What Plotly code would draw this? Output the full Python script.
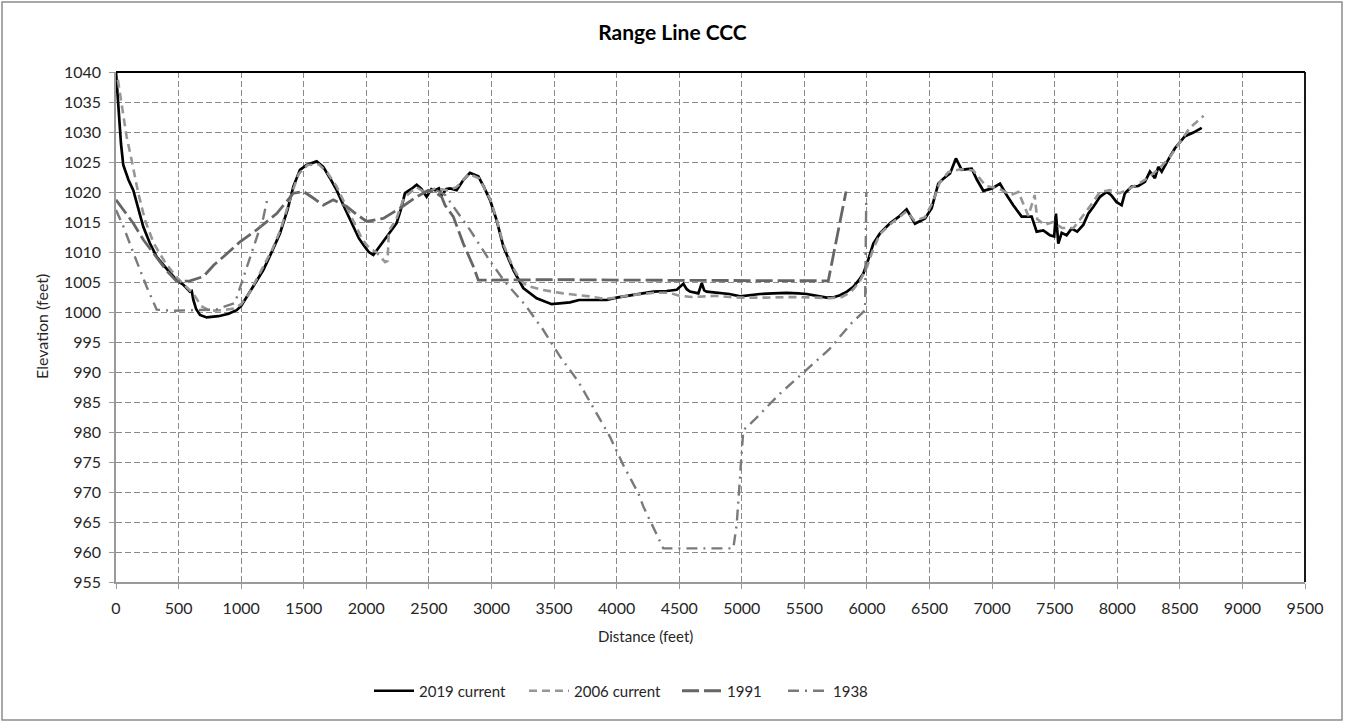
import plotly.graph_objects as go

# ---------------- data ----------------
x_2019 = [0, 20, 40, 58, 100, 138, 180, 218, 270, 325, 400, 485, 540, 591, 605, 618, 640, 671, 724, 818,
          900, 964, 1000, 1044, 1110, 1177, 1240, 1310, 1370, 1417, 1470, 1523, 1603, 1656, 1710, 1763, 1830,
          1896, 1940, 1976, 2020, 2056, 2110, 2163, 2242, 2275, 2309, 2360, 2402, 2440, 2482, 2520, 2549, 2580,
          2602, 2640, 2669, 2722, 2775, 2828, 2895, 2940, 2988, 3041, 3095, 3174, 3254, 3361, 3481, 3627, 3700,
          3760, 3920, 4000, 4107, 4200, 4293, 4400, 4480, 4533, 4560, 4586, 4653, 4680, 4700, 4719, 4826, 4900,
          4986, 5066, 5146, 5250, 5359, 5450, 5519, 5600, 5679, 5740, 5785, 5840, 5891, 5935, 5971, 6010, 6051,
          6104, 6184, 6250, 6317, 6384, 6464, 6517, 6570, 6610, 6664, 6711, 6757, 6800, 6837, 6880, 6930, 7000,
          7063, 7116, 7169, 7236, 7316, 7356, 7409, 7462, 7496, 7510, 7520, 7529, 7556, 7595, 7635, 7680, 7728,
          7768, 7808, 7862, 7915, 7950, 7995, 8035, 8061, 8115, 8168, 8221, 8261, 8301, 8328, 8355, 8421, 8461,
          8541, 8608, 8675]
y_2019 = [1040, 1033, 1028, 1024.5, 1022, 1020.3, 1017, 1014.2, 1011.5, 1009.2, 1007.3, 1005.3, 1004.5, 1003.4,
          1003.5, 1002, 1000.5, 999.5, 999.1, 999.3, 999.7, 1000.3, 1001, 1002.5, 1004.7, 1007, 1009.8, 1013.1,
          1017, 1020.9, 1023.7, 1024.5, 1025.1, 1024.2, 1022.3, 1020.3, 1017.2, 1014.2, 1012.3, 1011.2, 1010,
          1009.5, 1011, 1012.6, 1014.8, 1017, 1019.8, 1020.5, 1021.2, 1020.5, 1019.2, 1020.5, 1020.3, 1020.6,
          1019.5, 1020.5, 1020.6, 1020.3, 1022, 1023.2, 1022.6, 1020.8, 1018.7, 1015.3, 1010.9, 1007, 1004,
          1002.3, 1001.3, 1001.6, 1002, 1002, 1002, 1002.4, 1002.8, 1003.1, 1003.4, 1003.5, 1003.7, 1004.7,
          1003.8, 1003.4, 1003.1, 1004.8, 1003.6, 1003.4, 1003.1, 1003, 1002.6, 1002.8, 1003, 1003.1, 1003.2,
          1003.1, 1003, 1002.7, 1002.4, 1002.5, 1002.8, 1003.4, 1004.2, 1005.3, 1006.4, 1008.7, 1011.4, 1013.1,
          1014.8, 1015.8, 1017.1, 1014.7, 1015.6, 1017.3, 1021.4, 1022.2, 1023.1, 1025.6, 1023.7, 1023.8,
          1023.9, 1022, 1020.2, 1020.6, 1021.4, 1019.5, 1017.8, 1015.9, 1015.9, 1013.4, 1013.6, 1012.8, 1012.6,
          1016.4, 1012.6, 1011.4, 1013.2, 1012.8, 1013.9, 1013.4, 1014.5, 1016.4, 1017.5, 1019.2, 1020, 1019.5,
          1018.3, 1017.8, 1019.8, 1020.9, 1021, 1021.7, 1023.4, 1022.3, 1024.2, 1023.4, 1025.9, 1027.3, 1029.3,
          1029.9, 1030.7]

x_2006 = [15, 45, 85, 125, 178, 232, 300, 400, 485, 560, 620, 680, 750, 850, 950, 1000, 1060, 1120, 1177, 1250,
          1320, 1400, 1460, 1530, 1620, 1690, 1760, 1830, 1900, 1970, 2030, 2080, 2150, 2170, 2180, 2240, 2300,
          2400, 2480, 2550, 2650, 2720, 2820, 2900, 2990, 3040, 3095, 3170, 3230, 3281, 3400, 3574, 3700, 3787,
          3900, 4000, 4107, 4300, 4420, 4500, 4600, 4700, 4800, 4900, 5000, 5200, 5400, 5600, 5700, 5800, 5870,
          5940, 6000, 6050, 6104, 6184, 6317, 6380, 6464, 6530, 6580, 6650, 6750, 6850, 6950, 7050, 7150, 7210,
          7290, 7340, 7360, 7420, 7486, 7560, 7650, 7750, 7862, 7940, 8020, 8120, 8220, 8330, 8420, 8500, 8580,
          8690]
y_2006 = [1038.7, 1034.8, 1029.2, 1025.3, 1019.8, 1015.3, 1011.5, 1008, 1005.8, 1004.2, 1003, 1001, 1000.2,
          1000.3, 1000.6, 1001.3, 1003, 1005.3, 1007.5, 1010.5, 1014, 1019.5, 1023, 1024.5, 1024.6, 1023.2, 1021,
          1018, 1015, 1012, 1010.5, 1010, 1008.3, 1008.5, 1013.5, 1015.5, 1019, 1020.8, 1019.8, 1020.6, 1020.3,
          1020.8, 1023, 1022.3, 1018.8, 1015.5, 1011.3, 1007.5, 1005.3, 1004.4, 1003.7, 1003.1, 1002.8, 1002.6,
          1002.2, 1002.4, 1002.8, 1003.2, 1003.2, 1002.7, 1002.5, 1002.6, 1002.7, 1002.5, 1002.4, 1002.4, 1002.5,
          1002.4, 1002.3, 1002.5, 1003.3, 1005, 1007.5, 1010.5, 1013, 1014.6, 1016.8, 1015.2, 1015.8, 1018.5,
          1021.5, 1023.3, 1023.8, 1023.6, 1021, 1020.6, 1019.5, 1020, 1016, 1019.5, 1015.5, 1014.5, 1015, 1014,
          1014, 1016.7, 1020, 1020.3, 1019.8, 1020.8, 1022, 1023.8, 1025.8, 1028.3, 1030.7, 1032.7]

x_1991 = [0, 60, 138, 220, 298, 400, 485, 591, 698, 780, 858, 991, 1124, 1284, 1417, 1496, 1576, 1656, 1736,
          1843, 1920, 2003, 2136, 2269, 2402, 2495, 2560, 2602, 2629, 2695, 2775, 2855, 2895, 3500, 4200, 5000,
          5691, 5833]
y_1991 = [1018.7, 1017, 1014.8, 1012, 1009.8, 1007, 1005.1, 1005.2, 1005.9, 1007.8, 1009.2, 1011.7, 1013.7,
          1016.4, 1019.8, 1020.1, 1019, 1017.8, 1018.7, 1017.6, 1016.3, 1015.1, 1015.6, 1017.3, 1019.2, 1020.3,
          1019.8, 1019.2, 1017.8, 1015.9, 1011.4, 1007.6, 1005.3, 1005.4, 1005.3, 1005.3, 1005.2, 1020.1]

x_1938 = [0, 60, 140, 245, 325, 450, 600, 800, 950, 1020, 1071, 1177, 1211, None, 2560, 2630, 2828, 2988, 3108,
          3268, 3414, 3481, 3547, 3694, 3821, 3947, 4053, 4173, 4213, 4267, 4373, 4932, 4959, 5012, 5100, 5300,
          5500, 5700, 5870, 5985, 5995]
y_1938 = [1017, 1014.2, 1009.8, 1004.2, 1000.4, 1000.2, 1000.3, 1000.4, 1001.5, 1005.8, 1009, 1015.7, 1019,
          None, 1020.3, 1019.5, 1013.7, 1008.5, 1005, 1001.2, 997, 994.8, 992.6, 988.4, 983.8, 979.2, 974.5,
          969.8, 967.6, 965.3, 960.6, 960.6, 964.5, 980.3, 982, 986.3, 990, 993.8, 998, 1000.3, 1020]

series_names = ["2019 current", "2006 current", "1991", "1938"]
tick_vals_x = list(range(0, 9501, 500))
tick_vals_y = list(range(955, 1041, 5))

# ---------------- figure ----------------
W, H = 1345, 723
L, R, T, B = 116, 1305, 72, 582
FONT = "Lato, 'Liberation Sans', sans-serif"
TXT = "#262626"

fig = go.Figure()
fig.add_trace(go.Scatter(x=x_2019, y=y_2019, mode="lines", name=series_names[0], legend="legend",
                         line=dict(color="#000000", width=2.7)))
fig.add_trace(go.Scatter(x=x_2006, y=y_2006, mode="lines", name=series_names[1], legend="legend2",
                         line=dict(color="#969696", width=2.6, dash="8px,5px")))
fig.add_trace(go.Scatter(x=x_1991, y=y_1991, mode="lines", name=series_names[2], legend="legend3",
                         line=dict(color="#666666", width=2.8, dash="17px,5px")))
fig.add_trace(go.Scatter(x=x_1938, y=y_1938, mode="lines", name=series_names[3], legend="legend4",
                         connectgaps=False,
                         line=dict(color="#7a7a7a", width=2.4, dash="11px,6px,2px,6px")))


def px(p):
    return (p - L) / (R - L)


def py(p):
    return (B - p) / (B - T)


grid = dict(showgrid=True, gridcolor="#8a8a8a", gridwidth=1.3, griddash="6px,3px", zeroline=False,
            showline=True, linecolor="#9a9a9a", linewidth=1.5, ticks="outside", ticklen=5,
            tickcolor="#9a9a9a", tickwidth=1.3, tickfont=dict(family=FONT, size=16, color=TXT))

fig.update_xaxes(range=[0, 9500], tickvals=tick_vals_x, ticktext=[str(v) for v in tick_vals_x],
                 ticklabelstandoff=6, **grid)
fig.update_yaxes(range=[955, 1040], tickvals=tick_vals_y, ticktext=[str(v) for v in tick_vals_y],
                 ticklabelstandoff=5, **grid)

shapes = [
    dict(type="line", xref="paper", yref="paper", x0=0, x1=1, y0=1, y1=1,
         line=dict(color="#000000", width=1.8), layer="above"),
    dict(type="line", xref="paper", yref="paper", x0=1, x1=1, y0=0, y1=1,
         line=dict(color="#000000", width=1.8), layer="above"),
    dict(type="rect", xref="paper", yref="paper", x0=px(2), x1=px(1342), y0=py(720), y1=py(2),
         line=dict(color="#8c8c8c", width=1.5), layer="below"),
]

annotations = [
    dict(text="Distance (feet)", xref="paper", yref="paper", x=px(645), y=py(636),
         xanchor="center", yanchor="middle", showarrow=False,
         font=dict(family=FONT, size=15, color=TXT)),
    dict(text="Elevation (feet)", xref="paper", yref="paper", x=px(41), y=py(327),
         xanchor="center", yanchor="middle", showarrow=False, textangle=-90,
         font=dict(family=FONT, size=16, color=TXT)),
]


def leg(xpix):
    return dict(orientation="h", x=px(xpix), xanchor="left", y=py(691), yanchor="middle",
                font=dict(family=FONT, size=15, color=TXT), bgcolor="rgba(0,0,0,0)", itemwidth=40)


fig.update_layout(
    width=W, height=H,
    margin=dict(l=L, r=W - R, t=T, b=H - B, autoexpand=False),
    paper_bgcolor="white", plot_bgcolor="white",
    title=dict(text="<b>Range Line CCC</b>", x=0.5, xref="container", xanchor="center",
               y=1 - 33 / H, yref="container", yanchor="middle",
               font=dict(family=FONT, size=21, color="#000000")),
    legend=leg(369), legend2=leg(524), legend3=leg(677), legend4=leg(783),
    shapes=shapes, annotations=annotations,
    showlegend=True,
)

fig.write_html("out.html")
